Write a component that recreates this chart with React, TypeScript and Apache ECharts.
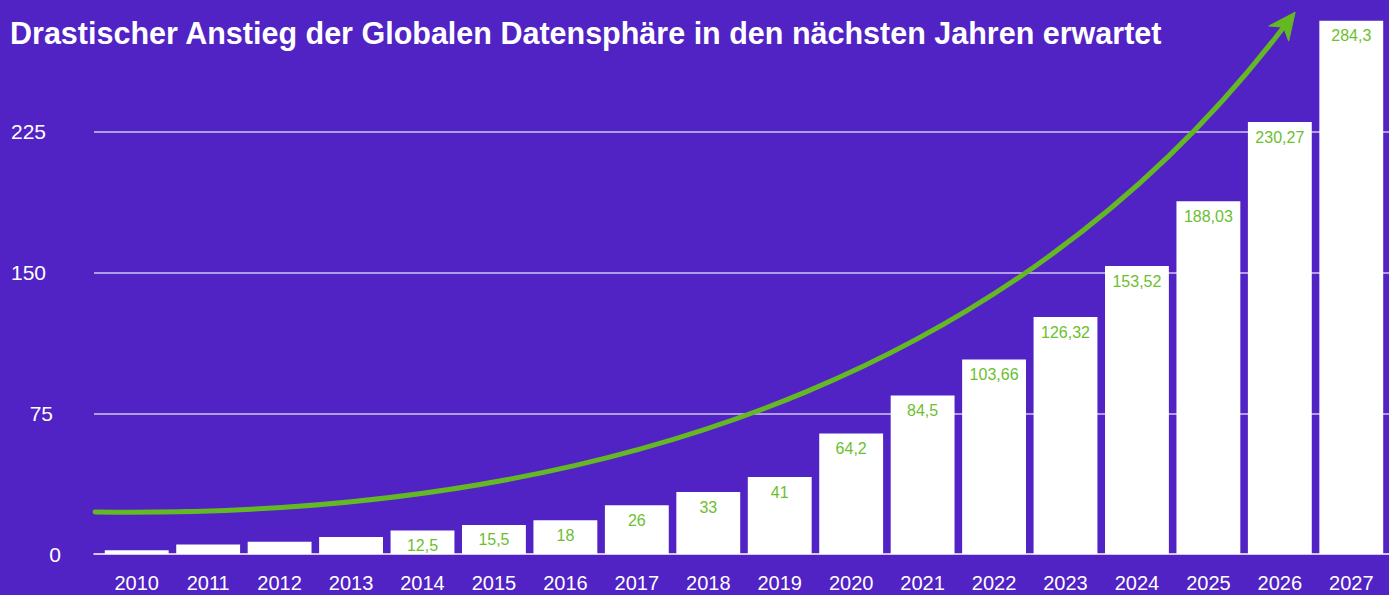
import React, { useEffect, useRef } from "react";
import * as echarts from "echarts";

const TITLE = "Drastischer Anstieg der Globalen Datensphäre in den nächsten Jahren erwartet";
const years = ["2010", "2011", "2012", "2013", "2014", "2015", "2016", "2017", "2018", "2019", "2020", "2021", "2022", "2023", "2024", "2025", "2026", "2027"];
const values = [2, 5, 6.5, 9, 12.5, 15.5, 18, 26, 33, 41, 64.2, 84.5, 103.66, 126.32, 153.52, 188.03, 230.27, 284.3];
const labelMinValue = 10;
const yTicks = [0, 75, 150, 225];

const BG = "#5122C4";
const GREEN = "#63B823";
const LABEL_GREEN = "#6CBF2E";
const FONT = "'Liberation Sans', Arial, Helvetica, sans-serif";

export default function App() {
  const ref = useRef<HTMLDivElement>(null);
  useEffect(() => {
    if (!ref.current) return;
    const chart = echarts.init(ref.current, undefined, { renderer: "svg" });

    // arrow geometry (decoration)
    const P0 = [95, 512];
    const P1 = [650, 520];
    const P2 = [1040, 345];
    const P3 = [1283, 28];
    const dx = P3[0] - P2[0];
    const dy = P3[1] - P2[1];
    const len = Math.hypot(dx, dy);
    const d = [dx / len, dy / len];
    const n = [-d[1], d[0]];
    const tip = [P3[0] + 20 * d[0], P3[1] + 20 * d[1]];
    const L = 27, W = 12.5, notch = 8;
    const back = [tip[0] - L * d[0], tip[1] - L * d[1]];
    const left = [back[0] + W * n[0], back[1] + W * n[1]];
    const right = [back[0] - W * n[0], back[1] - W * n[1]];
    const inner = [tip[0] - (L - notch) * d[0], tip[1] - (L - notch) * d[1]];

    const yMax = 290;
    const tickStyle: Record<string, number> = { 0: 0, 75: 8, 150: 15, 225: 15 };

    chart.setOption({
      animation: false,
      backgroundColor: BG,
      title: {
        text: TITLE,
        left: 5,
        top: 12,
        textStyle: { color: "#ffffff", fontSize: 30.5, fontWeight: "bold", fontFamily: FONT },
      },
      grid: [
        { left: 101, right: 2, top: 10, bottom: 41 },
        { left: 94, right: 0, top: 10, bottom: 41 },
      ],
      xAxis: [
        {
          type: "category",
          gridIndex: 0,
          data: years,
          axisLine: { show: false },
          axisTick: { show: false },
          axisLabel: { color: "#ffffff", fontSize: 20, fontFamily: FONT, margin: 19 },
        },
        {
          type: "value",
          gridIndex: 1,
          min: 0,
          max: 1,
          axisLine: { show: true, onZero: false, lineStyle: { color: "#ffffff", width: 1.5 } },
          axisTick: { show: false },
          axisLabel: { show: false },
          splitLine: { show: false },
        },
      ],
      yAxis: [
        {
          type: "value",
          gridIndex: 0,
          min: 0,
          max: yMax,
          interval: 75,
          axisLine: { show: false },
          axisTick: { show: false },
          axisLabel: { show: false },
          splitLine: { show: false },
        },
        {
          type: "value",
          gridIndex: 1,
          min: 0,
          max: yMax,
          interval: 75,
          axisLine: { show: false },
          axisTick: { show: false },
          axisLabel: {
            showMaxLabel: false,
            color: "#ffffff",
            fontSize: 21,
            fontFamily: FONT,
            margin: 33,
            formatter: (v: number) => (yTicks.includes(v) ? `{p${tickStyle[v] ?? 0}|${v}}` : ""),
            rich: {
              p0: { color: "#ffffff", fontSize: 21, fontFamily: FONT, padding: [0, 0, 0, 0] },
              p8: { color: "#ffffff", fontSize: 21, fontFamily: FONT, padding: [0, 8, 0, 0] },
              p15: { color: "#ffffff", fontSize: 21, fontFamily: FONT, padding: [0, 15, 0, 0] },
            },
          },
          splitLine: {
            show: true,
            showMinLine: false,
            showMaxLine: false,
            lineStyle: { color: "rgba(225,215,250,0.9)", width: 1.5 },
          },
        },
      ],
      series: [
        {
          type: "bar",
          xAxisIndex: 0,
          yAxisIndex: 0,
          data: values,
          barCategoryGap: "10.6%",
          itemStyle: { color: "#ffffff" },
          z: 3,
          label: {
            show: true,
            position: "insideTop",
            distance: 7,
            color: LABEL_GREEN,
            fontSize: 16,
            fontFamily: FONT,
            formatter: (p: any) => (p.value < labelMinValue ? "" : String(p.value).replace(".", ",")),
          },
        },
      ],
      graphic: [
        {
          type: "bezierCurve",
          z: 100,
          shape: { x1: P0[0], y1: P0[1], cpx1: P1[0], cpy1: P1[1], cpx2: P2[0], cpy2: P2[1], x2: P3[0], y2: P3[1] },
          style: { stroke: GREEN, lineWidth: 5, fill: null, lineCap: "round" },
        },
        {
          type: "polygon",
          z: 100,
          shape: { points: [tip, left, inner, right] },
          style: { fill: GREEN, stroke: GREEN, lineWidth: 1, lineJoin: "round" },
        },
      ],
    });
    return () => chart.dispose();
  }, []);
  return <div ref={ref} style={{ position: "fixed", left: 0, top: 0, width: 1389, height: 595 }} />;
}
